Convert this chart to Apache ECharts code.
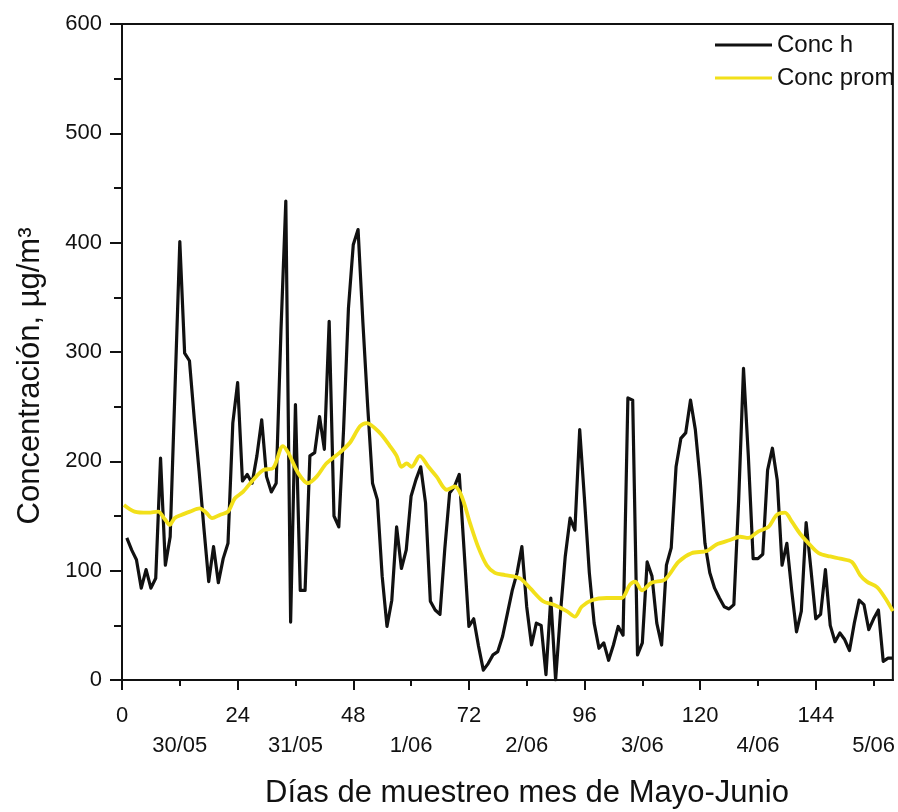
<!DOCTYPE html>
<html>
<head>
<meta charset="utf-8">
<script src="https://cdn.jsdelivr.net/npm/echarts@6/dist/echarts.min.js"></script>
<style>
  html, body { margin: 0; padding: 0; background: #ffffff; }
  #chart { width: 898px; height: 812px; }
</style>
</head>
<body>
<div id="chart"></div>
<script>
// Hour ticks of the sampling period and the day labels placed at mid-day
const hourTicks = [0, 24, 48, 72, 96, 120, 144];
const dayHours = [12, 36, 60, 84, 108, 132, 156];
const dayLabels = ['30/05', '31/05', '1/06', '2/06', '3/06', '4/06', '5/06'];

// Hourly concentration (µg/m³), hours 1..160
const firstHour = 1;
const concH = [
  130, 119, 110, 84, 101, 84, 93, 203, 105, 131,
  266, 401, 299, 292, 239, 191, 139, 90, 122, 89,
  111, 125, 235, 272, 182, 188, 180, 205, 238, 186,
  172, 180, 320, 438, 53, 252, 82, 82, 205, 208,
  241, 211, 328, 150, 140, 230, 340, 398, 412, 327,
  250, 180, 165, 95, 49, 73, 140, 102, 119, 168,
  183, 195, 162, 72, 64, 60, 120, 171, 177, 188,
  119, 49, 56, 31, 9, 15, 23, 26, 40, 61,
  82, 98, 122, 67, 32, 52, 50, 5, 75, 0,
  61, 113, 148, 137, 229, 165, 98, 52, 29, 34,
  18, 32, 49, 41, 258, 256, 23, 34, 108, 95,
  52, 32, 105, 121, 195, 221, 226, 256, 229, 183,
  125, 98, 84, 75, 67, 65, 69, 165, 285, 205,
  111, 111, 115, 192, 212, 183, 105, 125, 82, 44,
  63, 144, 101, 56, 60, 101, 50, 35, 43, 37,
  27, 52, 73, 69, 46, 56, 64, 17, 20, 20
];

// Running mean concentration, sampled along the curve
const promHours = [
  0.4, 2.6, 5.4, 7.5, 8.9, 9.9, 10.9, 12.3, 14.1, 16.1,
  17.5, 18.7, 20.3, 22, 23.4, 25.1, 27.2, 29.3, 31.4, 33.4,
  34.5, 36.6, 38.6, 40.4, 42.4, 45.2, 47.3, 49.4, 50.8, 53.5,
  55.6, 57, 58, 59.1, 60.1, 61.8, 63.6, 65.3, 67.4, 69.1,
  70.5, 72.2, 73.9, 75.7, 77.4, 79.5, 82.6, 84.7, 87.4, 89.5,
  92.3, 94, 95.4, 97.5, 100.6, 103.7, 105.4, 106.5, 107.9, 109.9,
  112.7, 115.5, 118.2, 121.4, 123.4, 126.2, 128.3, 130, 132.1, 134.2,
  135.9, 137.6, 139, 140.7, 142.5, 144.6, 147, 149.1, 151.5, 153.2,
  154.6, 156.7, 158.4, 160
];
const promValues = [
  160, 154, 153, 154, 147, 142, 148, 151, 154, 157,
  153, 148, 151, 154, 166, 172, 183, 192, 194, 214,
  208, 189, 180, 186, 198, 208, 217, 232, 235, 226,
  214, 205, 195, 198, 195, 205, 195, 186, 174, 177,
  168, 144, 122, 105, 98, 96, 93, 84, 72, 69,
  63, 58, 67, 73, 75, 75, 87, 90, 82, 89,
  92, 108, 116, 118, 124, 128, 131, 130, 136, 140,
  151, 153, 145, 134, 125, 116, 113, 111, 108, 96,
  90, 85, 75, 63
];

const FONT = '"Liberation Sans", Arial, Helvetica, sans-serif';
const INK = '#111111';
const YELLOW = '#F2E01A';

const chart = echarts.init(document.getElementById('chart'), null, { renderer: 'canvas' });

chart.setOption({
  animation: false,
  backgroundColor: '#ffffff',
  textStyle: { fontFamily: FONT, color: INK },
  grid: {
    left: 122, right: 5, top: 24, bottom: 132,
    show: true, borderColor: INK, borderWidth: 2, backgroundColor: 'transparent'
  },
  legend: {
    orient: 'vertical',
    left: 710, top: 28,
    icon: 'rect',
    itemWidth: 57, itemHeight: 3, itemGap: 9,
    textStyle: { fontFamily: FONT, fontSize: 24, color: INK, lineHeight: 24 },
    data: ['Conc h', 'Conc prom']
  },
  graphic: [
    {
      type: 'text',
      x: 30, y: 376,
      rotation: Math.PI / 2,
      style: {
        text: 'Concentración, µg/m³',
        font: '31px ' + FONT,
        fill: INK,
        align: 'center',
        verticalAlign: 'middle'
      }
    },
    {
      type: 'text',
      x: 527, y: 793,
      style: {
        text: 'Días de muestreo mes de Mayo-Junio',
        font: '31px ' + FONT,
        fill: INK,
        align: 'center',
        verticalAlign: 'middle'
      }
    }
  ],
  xAxis: [
    {
      type: 'value', min: 0, max: 160, interval: 24,
      position: 'bottom',
      axisLine: { show: true, lineStyle: { color: INK, width: 2 } },
      axisTick: { show: true, length: 10, lineStyle: { color: INK, width: 2 }, customValues: hourTicks },
      axisLabel: {
        customValues: hourTicks, margin: 25,
        fontFamily: FONT, fontSize: 22, color: INK
      },
      splitLine: { show: false }
    },
    {
      type: 'value', min: 0, max: 160, interval: 12,
      position: 'bottom',
      axisLine: { show: false },
      axisTick: { show: true, length: 6, lineStyle: { color: INK, width: 2 }, customValues: dayHours },
      axisLabel: {
        customValues: dayHours, margin: 55,
        fontFamily: FONT, fontSize: 22, color: INK,
        formatter: function (v) {
          const i = dayHours.indexOf(v);
          return i >= 0 ? dayLabels[i] : '';
        }
      },
      splitLine: { show: false }
    }
  ],
  yAxis: {
    type: 'value', min: 0, max: 600, interval: 100,
    axisLine: { show: true, lineStyle: { color: INK, width: 2 } },
    axisTick: { show: true, length: 12, lineStyle: { color: INK, width: 2 } },
    minorTick: { show: true, splitNumber: 2, length: 8, lineStyle: { color: INK, width: 2 } },
    axisLabel: { margin: 20, fontFamily: FONT, fontSize: 22, color: INK },
    splitLine: { show: false },
    minorSplitLine: { show: false }
  },
  series: [
    {
      name: 'Conc h',
      type: 'line',
      xAxisIndex: 0,
      data: concH.map((v, i) => [firstHour + i, v]),
      symbol: 'none',
      color: INK,
      lineStyle: { color: INK, width: 3.2, join: 'round' },
      z: 2
    },
    {
      name: 'Conc prom',
      type: 'line',
      xAxisIndex: 0,
      data: promHours.map((h, i) => [h, promValues[i]]),
      symbol: 'none',
      smooth: 0.3,
      color: YELLOW,
      lineStyle: { color: YELLOW, width: 3.8 },
      z: 3
    }
  ]
});
</script>
</body>
</html>
